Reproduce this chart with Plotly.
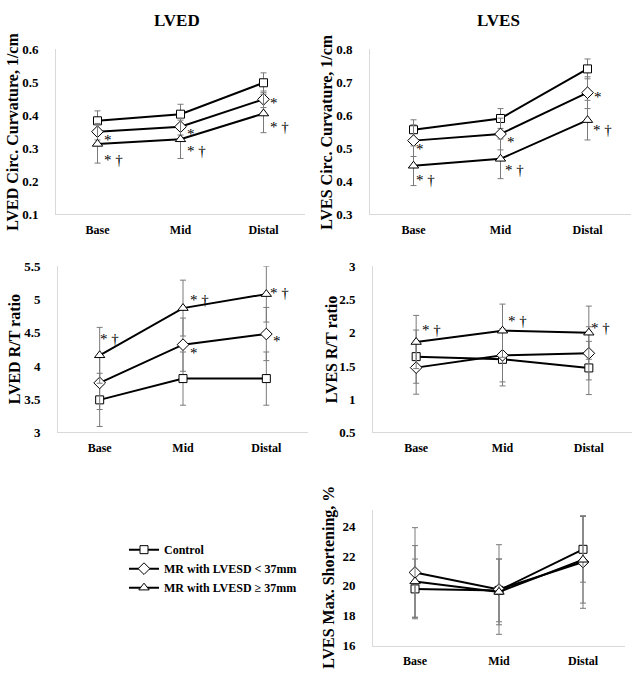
import plotly.graph_objects as go

# categories along the ventricle
segments = ["Base", "Mid", "Distal"]
groups = ["Control", "MR with LVESD < 37mm", "MR with LVESD \u2265 37mm"]
symbols = ["square", "diamond", "triangle-up"]
sizes = [8, 9, 9]

# LVED circumferential curvature, 1/cm
lved_curv_ctrl = [0.383, 0.403, 0.498]
lved_curv_small = [0.350, 0.365, 0.448]
lved_curv_large = [0.313, 0.327, 0.405]
lved_curv_err = [0.030, 0.025, 0.058]

# LVES circumferential curvature, 1/cm
lves_curv_ctrl = [0.556, 0.590, 0.740]
lves_curv_small = [0.523, 0.543, 0.668]
lves_curv_large = [0.447, 0.468, 0.585]
lves_curv_err = [0.030, 0.048, 0.060]

# LVED R/T ratio
lved_rt_ctrl = [3.49, 3.81, 3.81]
lved_rt_small = [3.745, 4.32, 4.48]
lved_rt_large = [4.16, 4.87, 5.08]
lved_rt_err = [0.40, 0.40, 0.42]

# LVES R/T ratio
lves_rt_ctrl = [1.64, 1.60, 1.47]
lves_rt_small = [1.475, 1.66, 1.69]
lves_rt_large = [1.86, 2.03, 2.00]
lves_rt_err = [0.40, 0.40, 0.40]

# LVES max. shortening, %
short_ctrl = [19.8, 19.7, 22.45]
short_small = [20.9, 19.76, 21.6]
short_large = [20.3, 19.6, 21.75]
short_ctrl_err = [2.0, 2.1, 2.2]
short_small_err = [3.0, 3.0, 3.1]
short_large_err = [2.4, 2.2, 2.9]

W, H = 639, 684
FONT = "Liberation Serif"


def px(X):
    return min(1, max(0, X / W))


def py(Y):
    return min(1, max(0, 1 - Y / H))


fig = go.Figure()

panels = [
    # axis suffix, series, errors, y range, ticks, y title
    ("", [lved_curv_ctrl, lved_curv_small, lved_curv_large], [[lved_curv_err[i]] * 3 for i in range(3)],
     [0.1, 0.6], [0.1, 0.2, 0.3, 0.4, 0.5, 0.6], "LVED Circ. Curvature, 1/cm"),
    ("2", [lves_curv_ctrl, lves_curv_small, lves_curv_large], [[lves_curv_err[i]] * 3 for i in range(3)],
     [0.3, 0.8], [0.3, 0.4, 0.5, 0.6, 0.7, 0.8], "LVES Circ. Curvature, 1/cm"),
    ("3", [lved_rt_ctrl, lved_rt_small, lved_rt_large], [[lved_rt_err[i]] * 3 for i in range(3)],
     [3, 5.5], [3, 3.5, 4, 4.5, 5, 5.5], "LVED R/T ratio"),
    ("4", [lves_rt_ctrl, lves_rt_small, lves_rt_large], [[lves_rt_err[i]] * 3 for i in range(3)],
     [0.5, 3], [0.5, 1, 1.5, 2, 2.5, 3], "LVES R/T ratio"),
    ("5", [short_ctrl, short_small, short_large], [short_ctrl_err, short_small_err, short_large_err],
     [16, 25.1], [16, 18, 20, 22, 24], "LVES Max. Shortening, %"),
]

# pixel boxes of the plot areas: left, right, top, bottom
boxes = {
    "": (56, 305, 43, 212),
    "2": (370, 631, 43, 212),
    "3": (58, 308, 265, 435),
    "4": (373, 632, 265, 435),
    "5": (373, 625, 514, 653),
}
title_x = {"": 13, "2": 327, "3": 14, "4": 331, "5": 329}

annotations = []
for ax, series, errs, yr, ticks, ytitle in panels:
    for g in range(3):
        fig.add_trace(go.Scatter(
            x=segments, y=series[g], name=groups[g],
            mode="lines+markers",
            line=dict(color="black", width=2),
            marker=dict(symbol=symbols[g], size=sizes[g], color="white",
                        line=dict(width=1, color="black")),
            error_y=dict(type="data", array=errs[g], visible=True,
                         color="#7a7a7a", thickness=1, width=3),
            xaxis="x" + ax, yaxis="y" + ax,
            showlegend=(ax == "5"),
        ))
    l, r, t, b = boxes[ax]
    xd = [px(l), px(r)]
    yd = [py(b), py(t)]
    fig.update_layout(**{
        "xaxis" + ax: dict(domain=xd, anchor="y" + ax, type="category",
                           range=[-0.5, 2.5], showline=True, linecolor="#d9d9d9",
                           linewidth=1, showgrid=False, zeroline=False,
                           tickfont=dict(family=FONT, size=12, color="black", weight="bold"),
                           ticks="", ticklabelstandoff=4),
        "yaxis" + ax: dict(domain=yd, anchor="x" + ax, range=yr, tickvals=ticks,
                           showline=True, linecolor="#d9d9d9", linewidth=1,
                           showgrid=False, zeroline=False, ticks="",
                           tickfont=dict(family=FONT, size=13, color="black", weight="bold"),
                           ticklabelstandoff=14),
    })
    annotations.append(dict(
        text=ytitle, xref="paper", yref="paper", x=px(title_x[ax]),
        y=(yd[0] + yd[1]) / 2, textangle=-90, showarrow=False,
        xanchor="center", yanchor="middle",
        font=dict(family=FONT, size=16, color="black", weight="bold")))

# significance marks: axis, category, value, text, xshift, yshift
marks = [
    ("", 0, lved_curv_small[0], "*", 4, -8),
    ("", 0, lved_curv_large[0], "* \u2020", 4, -16),
    ("", 1, lved_curv_small[1], "*", 4, -7),
    ("", 1, lved_curv_large[1], "* \u2020", 4, -12),
    ("", 2, lved_curv_small[2], "*", 4, -4),
    ("", 2, lved_curv_large[2], "* \u2020", 4, -13),
    ("2", 0, lves_curv_small[0], "*", 0, -8),
    ("2", 0, lves_curv_large[0], "* \u2020", 0, -14),
    ("2", 1, lves_curv_small[1], "*", 4, -8),
    ("2", 1, lves_curv_large[1], "* \u2020", 2, -11),
    ("2", 2, lves_curv_small[2], "*", 4, -4),
    ("2", 2, lves_curv_large[2], "* \u2020", 3, -10),
    ("3", 0, lved_rt_large[0], "* \u2020", -2, 16),
    ("3", 1, lved_rt_large[1], "* \u2020", 5, 8),
    ("3", 2, lved_rt_large[2], "* \u2020", 2, 1),
    ("3", 1, lved_rt_small[1], "*", 5, -8),
    ("3", 2, lved_rt_small[2], "*", 5, -7),
    ("4", 0, lves_rt_large[0], "* \u2020", 4, 12),
    ("4", 1, lves_rt_large[1], "* \u2020", 3, 10),
    ("4", 2, lves_rt_large[2], "* \u2020", 0, 5),
]
for ax, ci, yv, txt, dx, dy in marks:
    annotations.append(dict(
        text=txt, x=segments[ci], y=yv, xref="x" + ax, yref="y" + ax,
        xanchor="left", yanchor="middle", xshift=dx, yshift=dy, showarrow=False,
        font=dict(family=FONT, size=15, color="black")))

for ttl, cx in [("LVED", 177), ("LVES", 498)]:
    annotations.append(dict(
        text=ttl, xref="paper", yref="paper", x=px(cx), y=py(14),
        showarrow=False, xanchor="center", yanchor="middle",
        font=dict(family=FONT, size=17, color="black", weight="bold")))

fig.update_layout(
    width=W, height=H,
    margin=dict(l=0, r=0, t=0, b=0),
    paper_bgcolor="white", plot_bgcolor="white",
    annotations=annotations,
    legend=dict(x=px(124), y=py(540), xanchor="left", yanchor="top",
                bgcolor="rgba(0,0,0,0)", itemwidth=30, tracegroupgap=0,
                font=dict(family=FONT, size=12, color="black", weight="bold")),
)

# drop the default body margin so the figure fills the window exactly
fig.write_html("out.html", config={"displayModeBar": False},
               post_script="document.body.style.margin='0';document.body.style.overflow='hidden';")
